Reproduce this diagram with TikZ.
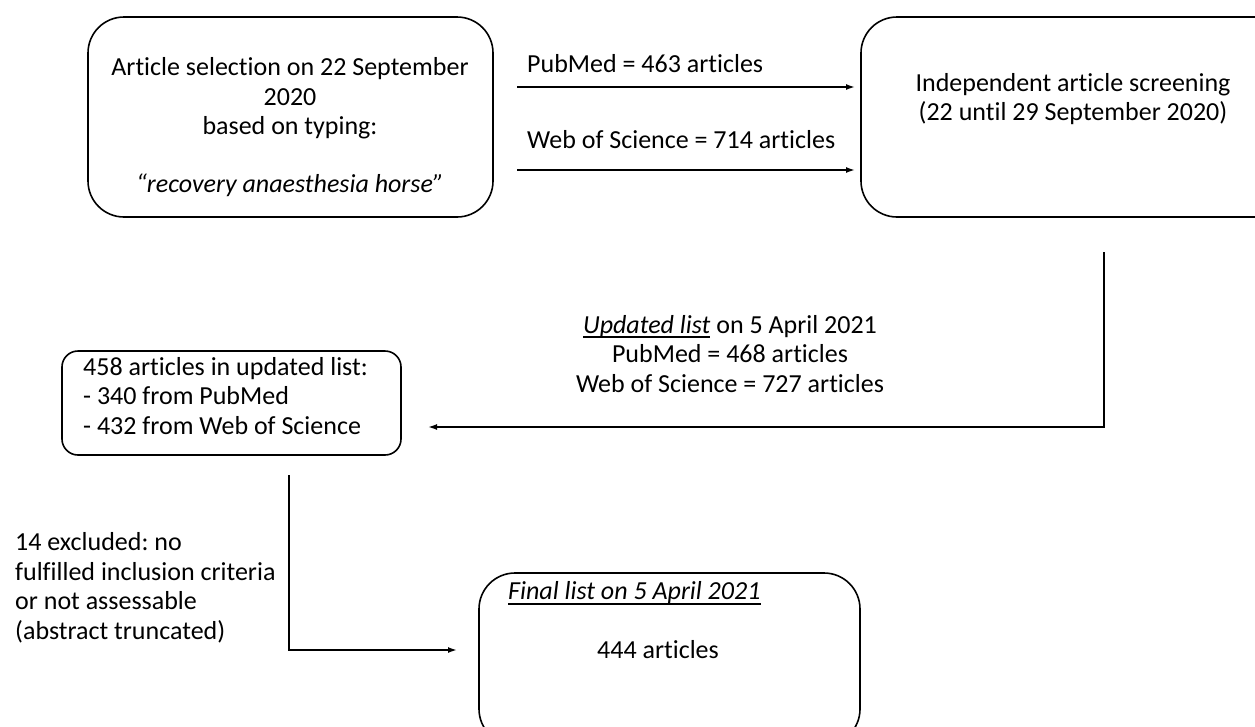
\documentclass[tikz,border=0pt]{standalone}
\usepackage{fontspec}
\setmainfont{Carlito}[Ligatures=NoCommon]
\frenchspacing
\newcommand\myul[1]{\leavevmode\setbox0\hbox{#1}\rlap{\vrule height -3pt depth 5pt width \wd0}\box0\relax}
\usetikzlibrary{arrows.meta}
\tikzset{
  x=1pt, y=-1pt,
  box/.style={draw=black, line width=1.6pt},
  conn/.style={draw=black, line width=1.6pt},
  arr/.style={conn, -{Latex[length=9pt,width=6pt]}},
  txt/.style={inner sep=0pt, font=\fontsize{26}{29.5}\selectfont, align=center},
  ltxt/.style={txt, align=left, anchor=west},
}
\begin{document}
\begin{tikzpicture}
\useasboundingbox (0,0) rectangle (1255,726);
\begin{scope}
\clip (0,0) rectangle (1255,726);
% boxes
\draw[box, rounded corners=36pt] (88,17) rectangle (493,217);
\draw[box, rounded corners=36pt] (861,17) rectangle (1290,217);
\draw[box, rounded corners=16pt] (62,351) rectangle (401,455);
\draw[box, rounded corners=36pt] (479,573) rectangle (860,745);
\end{scope}
% box texts
\node[txt] (t1) at (290,127) {Article selection on 22 September\\2020\\based on typing:\\[28pt]\textit{“recovery anaesthesia horse”}};
\node[txt] (t2) at (1073,99) {Independent article screening\\(22 until 29 September 2020)};
\node[ltxt] (t3) at (83,396) {458 articles in updated list:\\- 340 from PubMed\\- 432 from Web of Science};
\node[txt, anchor=west] (t4a) at (508,593) {\myul{\textit{Final list on 5 April 2021}}};
\node[txt] (t4b) at (658,650) {444 articles};
% arrow labels
\node[txt, anchor=west] (l1) at (527,64) {PubMed = 463 articles};
\node[txt, anchor=west] (l2) at (527,140) {Web of Science = 714 articles};
\node[txt] (l3) at (730,354) {\myul{\textit{Updated list}} on 5 April 2021\\PubMed = 468 articles\\Web of Science = 727 articles};
\node[ltxt] (l4) at (15,588) {14 excluded: no\\fulfilled inclusion criteria\\or not assessable\\(abstract truncated)};
% connector coordinates
\coordinate (a1s) at (517,87);
\coordinate (a1e) at (855,87);
\coordinate (a2s) at (517,170);
\coordinate (a2e) at (855,170);
\coordinate (b1) at (1104,252);
\coordinate (b2) at (1104,427);
\coordinate (b3) at (428,427);
\coordinate (c1) at (289,475);
\coordinate (c2) at (289,650);
\coordinate (c3) at (457,650);
\draw[arr] (a1s) -- (a1e);
\draw[arr] (a2s) -- (a2e);
\draw[arr] (b1) -- (b2) -- (b3);
\draw[arr] (c1) -- (c2) -- (c3);
\end{tikzpicture}
\end{document}
